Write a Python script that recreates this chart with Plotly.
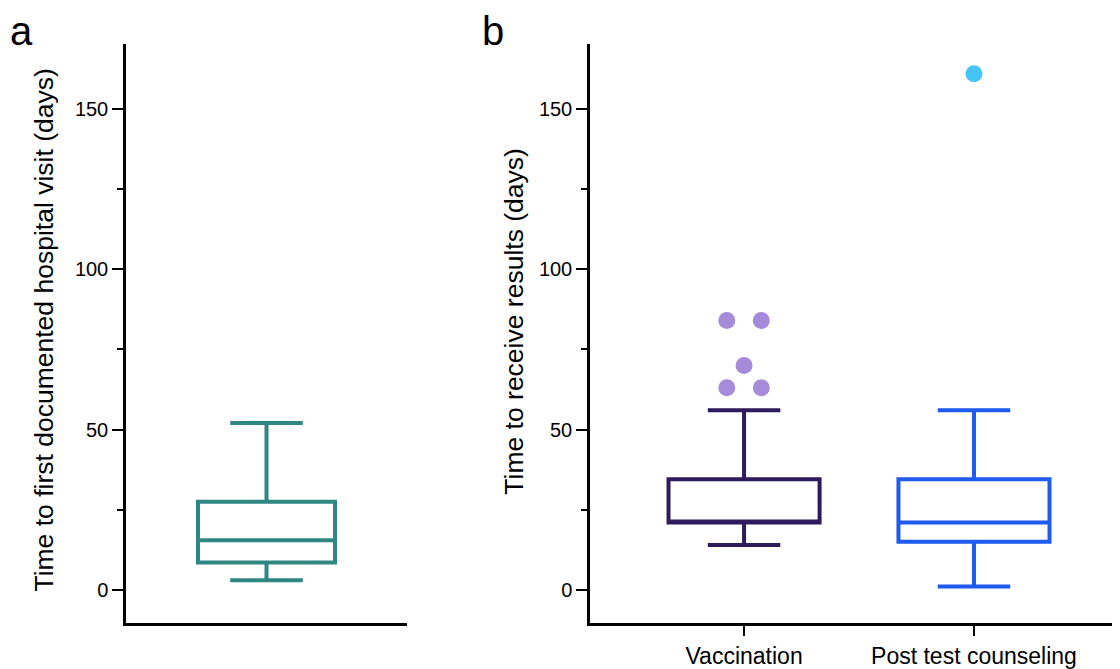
import plotly.graph_objects as go

# Panel a: time to first documented hospital visit (days)
a_label = ["Hospital visit"]
a_lower = [3]
a_q1 = [8.5]
a_median = [15.5]
a_q3 = [27.5]
a_upper = [52]

# Panel b: time to receive results (days)
b_categories = ["Vaccination", "Post test counseling"]
b_lower = [14, 1]
b_q1 = [21, 15]
b_median = [21, 21]
b_q3 = [34.5, 34.5]
b_upper = [56, 56]

# outliers
vacc_outliers = [84, 84, 70, 63, 63]
vacc_jitter = [-0.075, 0.075, 0.0, -0.075, 0.075]
ptc_outliers = [161]
ptc_jitter = [0.0]

y_ticks = [0, 50, 100, 150]
y_minor = [25, 75, 125]

box_colors = ["#2D1B5C", "#1F5BEE"]
out_colors = ["#A68BDA", "#45C4F6"]
teal = "#2F8784"

# page has an 8px body margin; work in page pixels and convert
W, H, OFF = 1112, 661, 8
def px(xp):
    return (xp - OFF) / W
def py(yp):
    return 1 - (yp - OFF) / H

fig = go.Figure()

fig.add_trace(go.Box(
    x=[0], lowerfence=a_lower, q1=a_q1, median=a_median, q3=a_q3, upperfence=a_upper,
    name=a_label[0], width=0.975, whiskerwidth=0.53,
    line=dict(color=teal, width=4), fillcolor="rgba(0,0,0,0)",
    boxpoints=False, xaxis="x", yaxis="y", showlegend=False, hoverinfo="skip"))

for i, cat in enumerate(b_categories):
    fig.add_trace(go.Box(
        x=[i], lowerfence=[b_lower[i]], q1=[b_q1[i]], median=[b_median[i]],
        q3=[b_q3[i]], upperfence=[b_upper[i]],
        name=cat, width=0.657, whiskerwidth=0.48,
        line=dict(color=box_colors[i], width=4), fillcolor="rgba(0,0,0,0)",
        boxpoints=False, xaxis="x2", yaxis="y2", showlegend=False, hoverinfo="skip"))

fig.add_trace(go.Scatter(
    x=[0 + j for j in vacc_jitter], y=vacc_outliers, mode="markers",
    marker=dict(color=out_colors[0], size=17), xaxis="x2", yaxis="y2",
    showlegend=False))
fig.add_trace(go.Scatter(
    x=[1 + j for j in ptc_jitter], y=ptc_outliers, mode="markers",
    marker=dict(color=out_colors[1], size=17), xaxis="x2", yaxis="y2",
    showlegend=False))

font = "Liberation Sans, Arial, Helvetica, sans-serif"
ydom = [py(631), py(45)]
yax = dict(
    range=[-10.2, 170.1], tickvals=y_ticks, ticktext=[str(v) for v in y_ticks],
    ticks="outside", ticklen=11, tickwidth=2, tickcolor="black",
    minor=dict(tickvals=y_minor, ticks="outside", ticklen=6, tickwidth=2, tickcolor="black"),
    showline=True, linewidth=2.5, linecolor="black", showgrid=False, zeroline=False,
    tickfont=dict(family=font, size=20, color="black"), domain=ydom)

fig.update_layout(
    width=W, height=H, margin=dict(l=0, r=0, t=0, b=0),
    plot_bgcolor="white", paper_bgcolor="white",
    xaxis=dict(domain=[px(126), px(407)], range=[-1, 1], showline=True,
               linewidth=2.5, linecolor="black", showticklabels=False, ticks="",
               showgrid=False, zeroline=False, anchor="y"),
    yaxis=dict(**yax, anchor="x"),
    xaxis2=dict(domain=[px(590), 1.0], range=[-0.67, 1.635], showline=True,
                linewidth=2.5, linecolor="black", tickvals=[0, 1], ticktext=b_categories,
                ticks="outside", ticklen=11, tickwidth=2, tickcolor="black",
                tickfont=dict(family=font, size=23, color="black"),
                showgrid=False, zeroline=False, anchor="y2"),
    yaxis2=dict(**yax, anchor="x2"),
    annotations=[
        dict(text="Time to first documented hospital visit (days)", textangle=-90,
             x=px(44), y=py(335), xref="paper", yref="paper",
             xanchor="center", yanchor="middle", showarrow=False,
             font=dict(family=font, size=26.5, color="black")),
        dict(text="Time to receive results (days)", textangle=-90,
             x=px(514), y=py(326), xref="paper", yref="paper",
             xanchor="center", yanchor="middle", showarrow=False,
             font=dict(family=font, size=26.5, color="black")),
        dict(text="a", x=px(9), y=1.0, xref="paper", yref="paper",
             xanchor="left", yanchor="top", showarrow=False, borderpad=0,
             font=dict(family=font, size=40, color="black")),
        dict(text="b", x=px(481), y=1.0, xref="paper", yref="paper",
             xanchor="left", yanchor="top", showarrow=False, borderpad=0,
             font=dict(family=font, size=40, color="black")),
    ],
)

fig.write_html("out.html")
